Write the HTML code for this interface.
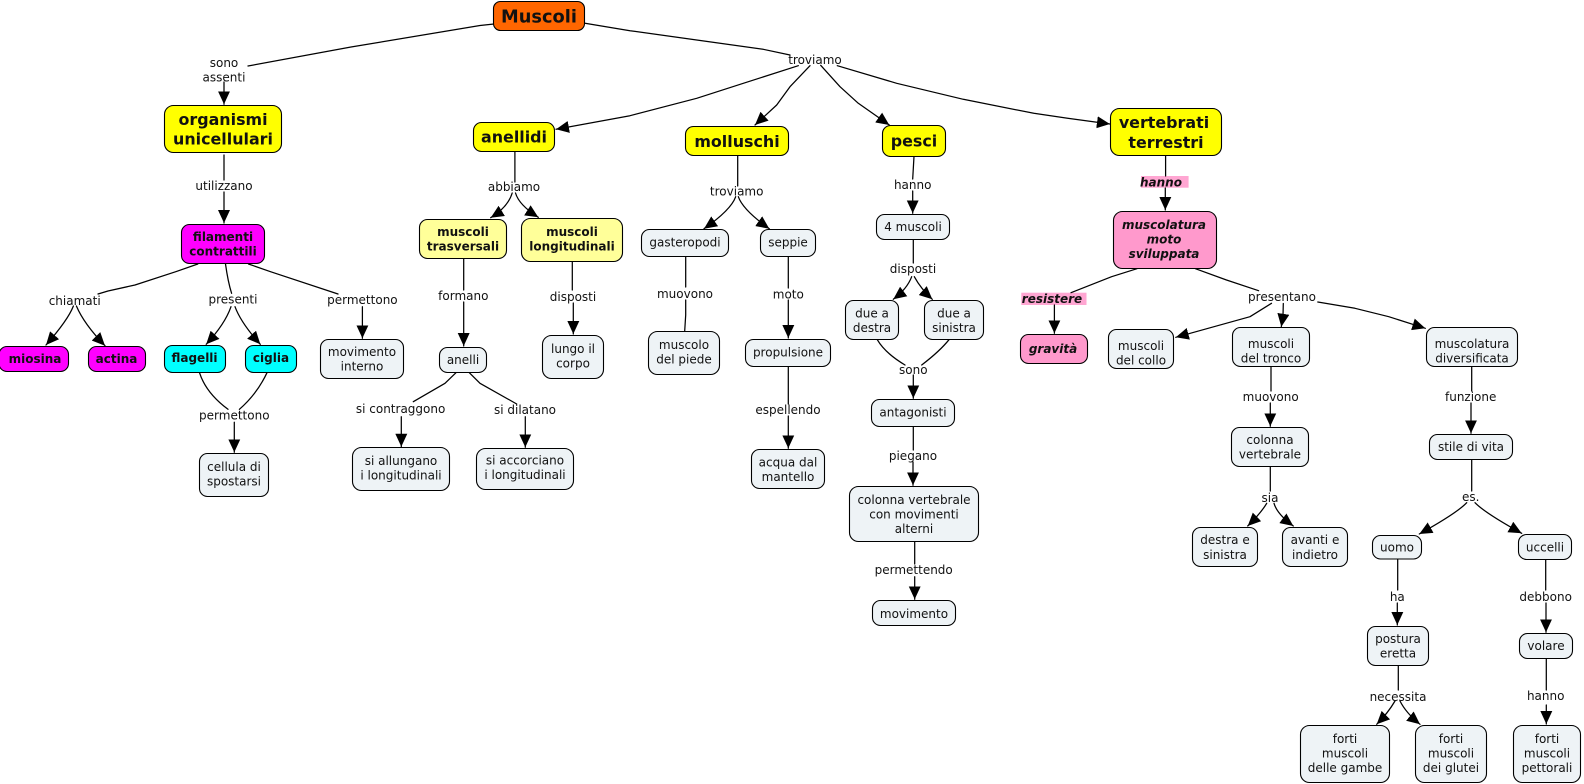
<!DOCTYPE html>
<html><head><meta charset="utf-8"><title>Muscoli</title>
<style>
html,body{margin:0;padding:0;background:#fff;width:1584px;height:784px;overflow:hidden}
svg{display:block}
text{font-family:"DejaVu Sans","Liberation Sans",sans-serif;font-size:12px;text-anchor:middle;fill:#111}
.l path{fill:none;stroke:#000;stroke-width:1.25;stroke-linejoin:round;stroke-linecap:round}
.a path{marker-end:url(#ah)}
rect.n{stroke:#000;stroke-width:1.1}
.y{fill:#ffff00}.o{fill:#ff6600}.m{fill:#ff00ff}.c{fill:#00ffff}.p{fill:#ffff99}.g{fill:#eef3f6}.k{fill:#ff99cc}
text.b{font-weight:bold;font-size:12px}
text.h{font-weight:bold;font-size:15.9px}
text.i{font-weight:bold;font-style:italic;font-size:12px}
</style></head><body>
<svg width="1584" height="784" viewBox="0 0 1584 784" xmlns="http://www.w3.org/2000/svg">
<defs><marker id="ah" viewBox="0 0 13 12" refX="13" refY="6" markerWidth="13" markerHeight="12" orient="auto" markerUnits="userSpaceOnUse"><path d="M0 0L13 6L0 12z" fill="#000"/></marker></defs>

<!-- pink label backgrounds -->
<rect x="1141" y="176" width="47.6" height="11.7" fill="#ffa6d2"/>
<rect x="1021.3" y="292.7" width="65.2" height="12.3" fill="#ffa6d2"/>

<g class="l">
<path d="M494 24L480 25.5L351 47L248 66"/>
<path d="M585 23.3L630 30.7L696.7 40L763.3 49.3L790 55"/>
<path d="M224 155V180"/>
<path d="M197.8 264L175.8 271.7L135 285L108 291L98 294"/>
<path d="M225.5 264Q228 282 231.6 293.3"/>
<path d="M248.5 264L270.5 271.7L338 294"/>
<path d="M199.5 372.7Q206 393 228 409.3"/>
<path d="M267 372.7Q257 394 239.4 409.3"/>
<path d="M514.9 151.7V182"/>
<path d="M463.7 258.7V290"/>
<path d="M572.3 261.7V290"/>
<path d="M456 372.7L445 383.3L413.3 401.7"/>
<path d="M469.3 372.7L480 383.3L516.7 404"/>
<path d="M685.7 256.7V287"/>
<path d="M685.7 300V315L684.7 331"/>
<path d="M788.3 256.7V288"/>
<path d="M788.3 366.7V404"/>
<path d="M737.7 155.7V186"/>
<path d="M914 156.3L912.7 179"/>
<path d="M913.3 239.3V263"/>
<path d="M877.3 339.7Q885 353 905 365"/>
<path d="M949 339.7Q940 351 921.7 365"/>
<path d="M913.3 426.7V450"/>
<path d="M914.7 541.7V564"/>
<path d="M1165.6 155.3V176"/>
<path d="M1137 268.7L1111.6 276.7L1071 292.7"/>
<path d="M1195.4 268.7L1226.5 280L1258.6 290.7"/>
<path d="M1271 366.7V391"/>
<path d="M1471.7 366.7V391"/>
<path d="M1270.3 466.7V491"/>
<path d="M1471.7 459.7V491"/>
<path d="M1397.7 559V590"/>
<path d="M1545.7 559.7V590"/>
<path d="M1398.3 665.7V690"/>
<path d="M1546.3 658.7V690"/>
</g>
<g class="l a">
<path d="M224 82V104.3"/>
<path d="M224 192V223"/>
<path d="M73.4 306Q68 320 46 345"/>
<path d="M76.4 306Q84 324 105 345.7"/>
<path d="M231 306.7Q225 324 206.2 344.3"/>
<path d="M235 306.7Q241 323 260.3 344.3"/>
<path d="M362.4 306.7V338.3"/>
<path d="M234.3 422.3V452.3"/>
<path d="M512.2 193Q508 207 490.7 217.7"/>
<path d="M515.5 193Q519 205 538.3 217.3"/>
<path d="M463.7 302V346"/>
<path d="M573.3 303V334"/>
<path d="M401.3 416.7V446.7"/>
<path d="M525.3 416.7V447.3"/>
<path d="M788.3 300V338"/>
<path d="M788.3 416V448.3"/>
<path d="M798.3 65.7L743.3 83.3L696.7 98.3L630 115.7L556 129.3"/>
<path d="M810 65.7L790 86.7L776.7 105L755 125"/>
<path d="M820.7 65.3L840 86.7L858.3 103.3L889.3 125"/>
<path d="M837.3 65.7L896.7 83.3L963.3 99.3L1033.8 113.3L1067.6 118.3L1109.9 124"/>
<path d="M735.7 196.7Q731 210 704 228.7"/>
<path d="M738.3 196.7Q743 210 769.3 228.7"/>
<path d="M912.7 191V213.3"/>
<path d="M911.7 276.7Q907 289 893.3 299.3"/>
<path d="M914.3 276.7Q921 289 932.3 299.3"/>
<path d="M913.3 375V398.3"/>
<path d="M913 462V485.3"/>
<path d="M914.7 576.7V599.3"/>
<path d="M1165.3 188V210"/>
<path d="M1054.4 305V333.3"/>
<path d="M1271.5 303.3L1250 316.7L1175.8 337.3"/>
<path d="M1283.3 303.5L1283 316L1281.3 326.7"/>
<path d="M1317.8 302L1355 308.3L1388.8 316.7L1425.3 328.3"/>
<path d="M1270.3 403V426.3"/>
<path d="M1471 403V433.3"/>
<path d="M1266.7 503.3Q1261 513 1247.7 526"/>
<path d="M1274 503.3Q1277 514 1293.3 526"/>
<path d="M1466.7 502.7Q1457 513 1419.3 534"/>
<path d="M1475 502.7Q1485 513 1521.7 533.3"/>
<path d="M1397.3 603V625"/>
<path d="M1546 603V632.3"/>
<path d="M1395 701Q1388 713 1376.7 724.3"/>
<path d="M1400 701Q1406 713 1420 724.3"/>
<path d="M1546.3 705V724"/>
</g>

<!-- nodes -->
<g>
<rect class="n o" x="493.5" y="1.5" width="91" height="29" rx="7"/>
<rect class="n y" x="164.5" y="105.5" width="117" height="47" rx="9"/>
<rect class="n y" x="473.5" y="122.5" width="81" height="29" rx="8"/>
<rect class="n y" x="685.5" y="126.5" width="103" height="29" rx="8"/>
<rect class="n y" x="882.5" y="125.5" width="63" height="31" rx="8"/>
<rect class="n y" x="1110.5" y="108.5" width="111" height="47" rx="9"/>
<rect class="n m" x="181.5" y="224.5" width="83" height="39" rx="8"/>
<rect class="n p" x="419.5" y="219.5" width="87" height="39" rx="8"/>
<rect class="n p" x="521.5" y="218.5" width="101" height="43" rx="9"/>
<rect class="n g" x="641.5" y="229.5" width="87" height="27" rx="8"/>
<rect class="n g" x="760.5" y="229.5" width="55" height="27" rx="8"/>
<rect class="n g" x="876.5" y="214.5" width="73" height="25" rx="8"/>
<rect class="n k" x="1113.5" y="211.5" width="103" height="57" rx="9"/>
<rect class="n m" x="-1" y="346.5" width="69.5" height="25" rx="8"/>
<rect class="n m" x="88.5" y="346.5" width="57" height="25" rx="8"/>
<rect class="n c" x="164.5" y="345.5" width="61" height="27" rx="8"/>
<rect class="n c" x="245.5" y="345.5" width="51" height="27" rx="8"/>
<rect class="n g" x="320.5" y="339.5" width="83" height="39" rx="8"/>
<rect class="n g" x="199.5" y="453.5" width="69" height="43" rx="8"/>
<rect class="n g" x="439.5" y="347.5" width="47" height="25" rx="8"/>
<rect class="n g" x="542.5" y="335.5" width="61" height="43" rx="9"/>
<rect class="n g" x="352.5" y="447.5" width="97" height="43" rx="9"/>
<rect class="n g" x="476.5" y="448.5" width="97" height="41" rx="9"/>
<rect class="n g" x="648.5" y="331.5" width="71" height="43" rx="9"/>
<rect class="n g" x="745.5" y="339.5" width="85" height="27" rx="8"/>
<rect class="n g" x="751.5" y="449.5" width="73" height="39" rx="8"/>
<rect class="n g" x="845.5" y="300.5" width="53" height="39" rx="8"/>
<rect class="n g" x="924.5" y="300.5" width="59" height="39" rx="8"/>
<rect class="n g" x="871.5" y="399.5" width="83" height="27" rx="8"/>
<rect class="n g" x="849.5" y="486.5" width="129" height="55" rx="9"/>
<rect class="n g" x="872.5" y="600.5" width="83" height="25" rx="8"/>
<rect class="n k" x="1020.5" y="334.5" width="67" height="29" rx="8"/>
<rect class="n g" x="1108.5" y="329.5" width="65" height="39" rx="8"/>
<rect class="n g" x="1232.5" y="327.5" width="77" height="39" rx="8"/>
<rect class="n g" x="1426.5" y="327.5" width="91" height="39" rx="8"/>
<rect class="n g" x="1231.5" y="427.5" width="77" height="39" rx="8"/>
<rect class="n g" x="1192.5" y="527.5" width="65" height="39" rx="8"/>
<rect class="n g" x="1282.5" y="527.5" width="65" height="39" rx="8"/>
<rect class="n g" x="1429.5" y="434.5" width="83" height="25" rx="8"/>
<rect class="n g" x="1372.5" y="535.5" width="49" height="23.5" rx="8"/>
<rect class="n g" x="1518.5" y="534.5" width="53" height="25" rx="8"/>
<rect class="n g" x="1367.5" y="626.5" width="61" height="39" rx="8"/>
<rect class="n g" x="1519.5" y="633.5" width="53" height="25" rx="8"/>
<rect class="n g" x="1300.5" y="725.5" width="89" height="57" rx="9"/>
<rect class="n g" x="1415.5" y="725.5" width="71" height="57" rx="9"/>
<rect class="n g" x="1513.5" y="725.5" width="67" height="57" rx="9"/>
</g>

<!-- node text -->
<text class="h" style="font-size:17.8px" x="539" y="22.5">Muscoli</text>
<text class="h" x="223" y="125">organismi</text><text class="h" x="223" y="144.5">unicellulari</text>
<text class="h" x="514" y="142.5">anellidi</text>
<text class="h" x="737" y="147">molluschi</text>
<text class="h" x="914" y="146.5">pesci</text>
<text class="h" x="1164" y="128">vertebrati</text><text class="h" x="1166" y="148">terrestri</text>
<text class="b" x="223" y="241">filamenti</text><text class="b" x="223" y="255.5">contrattili</text>
<text class="b" x="463" y="236">muscoli</text><text class="b" x="463" y="250.5">trasversali</text>
<text class="b" x="572" y="236">muscoli</text><text class="b" x="572" y="250.5">longitudinali</text>
<text class="b" x="35" y="363">miosina</text>
<text class="b" x="116.5" y="363">actina</text>
<text class="b" x="194.5" y="362">flagelli</text>
<text class="b" x="271" y="362">ciglia</text>
<text class="i" x="1164" y="229">muscolatura</text><text class="i" x="1164" y="243.5">moto</text><text class="i" x="1164" y="258">sviluppata</text>
<text class="i" x="1053" y="353">gravità</text>
<text class="i" x="1161" y="186.5">hanno</text>
<text class="i" x="1052" y="303">resistere</text>

<text x="685" y="246.5">gasteropodi</text>
<text x="788" y="246.5">seppie</text>
<text x="913" y="231">4 muscoli</text>
<text x="362" y="356">movimento</text><text x="362" y="370.5">interno</text>
<text x="234" y="471">cellula di</text><text x="234" y="485.5">spostarsi</text>
<text x="463" y="364">anelli</text>
<text x="573" y="353">lungo il</text><text x="573" y="367.5">corpo</text>
<text x="401" y="465">si allungano</text><text x="401" y="479.5">i longitudinali</text>
<text x="525" y="464.5">si accorciano</text><text x="525" y="479">i longitudinali</text>
<text x="684" y="349">muscolo</text><text x="684" y="363.5">del piede</text>
<text x="788" y="356.5">propulsione</text>
<text x="788" y="466.5">acqua dal</text><text x="788" y="481">mantello</text>
<text x="872" y="317.5">due a</text><text x="872" y="332">destra</text>
<text x="954" y="317.5">due a</text><text x="954" y="332">sinistra</text>
<text x="913" y="416.5">antagonisti</text>
<text x="914" y="504">colonna vertebrale</text><text x="914" y="518.5">con movimenti</text><text x="914" y="533">alterni</text>
<text x="914" y="618">movimento</text>
<text x="1141" y="350">muscoli</text><text x="1141" y="364.5">del collo</text>
<text x="1271" y="348">muscoli</text><text x="1271" y="362.5">del tronco</text>
<text x="1472" y="348">muscolatura</text><text x="1472" y="362.5">diversificata</text>
<text x="1270" y="444">colonna</text><text x="1270" y="458.5">vertebrale</text>
<text x="1225" y="544">destra e</text><text x="1225" y="559">sinistra</text>
<text x="1315" y="544">avanti e</text><text x="1315" y="559">indietro</text>
<text x="1471" y="451">stile di vita</text>
<text x="1397" y="551.5">uomo</text>
<text x="1545" y="551.5">uccelli</text>
<text x="1398" y="643">postura</text><text x="1398" y="657.5">eretta</text>
<text x="1546" y="650">volare</text>
<text x="1345" y="743">forti</text><text x="1345" y="757.5">muscoli</text><text x="1345" y="772">delle gambe</text>
<text x="1451" y="743">forti</text><text x="1451" y="757.5">muscoli</text><text x="1451" y="772">dei glutei</text>
<text x="1547" y="743">forti</text><text x="1547" y="757.5">muscoli</text><text x="1547" y="772">pettorali</text>

<!-- link labels -->
<text x="224" y="67">sono</text><text x="224" y="81.5">assenti</text>
<text x="815" y="64">troviamo</text>
<text x="224" y="190">utilizzano</text>
<text x="514" y="191">abbiamo</text>
<text x="74.7" y="305">chiamati</text>
<text x="233" y="303.5">presenti</text>
<text x="362.4" y="304">permettono</text>
<text x="234.3" y="419.5">permettono</text>
<text x="400.6" y="413">si contraggono</text>
<text x="525" y="414">si dilatano</text>
<text x="463.3" y="300">formano</text>
<text x="573" y="301">disposti</text>
<text x="685" y="298">muovono</text>
<text x="788.3" y="298.5">moto</text>
<text x="788" y="414">espellendo</text>
<text x="736.7" y="195.5">troviamo</text>
<text x="912.7" y="189">hanno</text>
<text x="913" y="273">disposti</text>
<text x="913.3" y="374">sono</text>
<text x="913" y="460">piegano</text>
<text x="913.7" y="574">permettendo</text>
<text x="1282" y="301">presentano</text>
<text x="1270.7" y="401">muovono</text>
<text x="1470.7" y="401">funzione</text>
<text x="1270" y="502">sia</text>
<text x="1470.7" y="501">es.</text>
<text x="1397.3" y="601">ha</text>
<text x="1545.7" y="601">debbono</text>
<text x="1398" y="701">necessita</text>
<text x="1545.7" y="700">hanno</text>
</svg>
</body></html>
